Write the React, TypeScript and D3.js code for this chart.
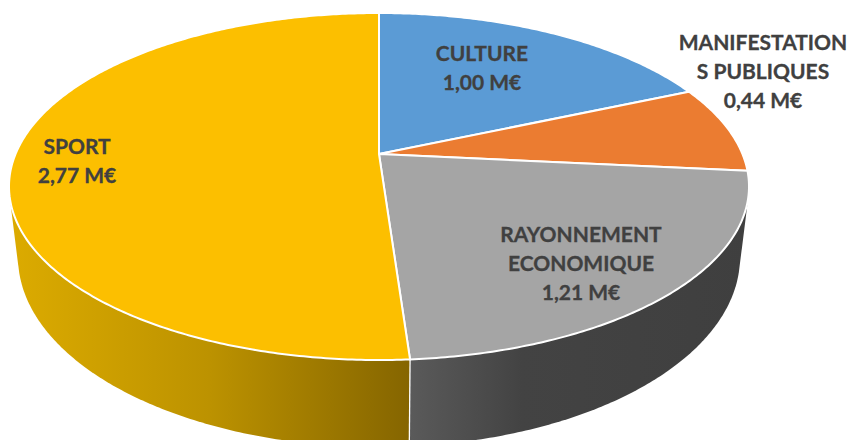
import React from "react";
import * as d3 from "d3";

const categories = ["CULTURE", "MANIFESTATIONS PUBLIQUES", "RAYONNEMENT ECONOMIQUE", "SPORT"];
const values = [1.0, 0.44, 1.21, 2.77];
const topColors = ["#5B9BD5", "#EB7C31", "#A5A5A5", "#FCBF00"];
const valueLabels = ["1,00 M€", "0,44 M€", "1,21 M€", "2,77 M€"];
const labelLines = [["CULTURE"], ["MANIFESTATION", "S PUBLIQUES"], ["RAYONNEMENT", "ECONOMIQUE"], ["SPORT"]];
const labelCenters = [[482, 53], [763, 42], [581, 234], [77, 146]];

const W = 848, H = 440;
const K = -0.187; // perspective shift of the pie's apex
const topE = { cx: 379, cy: 186.5, rx: 370, ry: 173.5 };
const botE = { cx: 379, cy: 257, rx: 361, ry: 190 };

function project(a: number, e: typeof topE, r = 1): [number, number] {
  const x = Math.sin(a) * r, y = -Math.cos(a) * r;
  const d = 1 + K * y;
  const xe = (x * Math.sqrt(1 - K * K)) / d;
  const ye = (y + K) / d;
  return [d3.scaleLinear([-1, 1], [e.cx - e.rx, e.cx + e.rx])(xe), d3.scaleLinear([-1, 1], [e.cy - e.ry, e.cy + e.ry])(ye)];
}

const arcs = d3.pie<number>().sort(null)(values);
const line = d3.line();

function samples(a0: number, a1: number) {
  const n = Math.max(2, Math.ceil((a1 - a0) / 0.01));
  return d3.range(n + 1).map((i) => a0 + ((a1 - a0) * i) / n);
}

function topPath(a0: number, a1: number) {
  const pts = samples(a0, a1).map((a) => project(a, topE));
  return line([project(0, topE, 0), ...pts])! + "Z";
}

function sidePath(a0: number, a1: number) {
  const s = samples(a0, a1);
  const hull = d3.polygonHull([...s.map((a) => project(a, topE)), ...s.map((a) => project(a, botE))]);
  return line(hull!)! + "Z";
}

export default function App() {
  const ray = arcs[2], sport = arcs[3];
  const seamTop = project(ray.endAngle, topE), seamBot = project(ray.endAngle, botE);
  return (
    <svg width={W} height={H} viewBox={`0 0 ${W} ${H}`} style={{ position: "absolute", left: 0, top: 0, background: "#fff" }}>
      <defs>
        <linearGradient id="sportSide" gradientUnits="userSpaceOnUse" x1={10} x2={410} y1={0} y2={0}>
          <stop offset="0" stopColor="#DCAB00" />
          <stop offset="0.5" stopColor="#BC9200" />
          <stop offset="1" stopColor="#856500" />
        </linearGradient>
        <linearGradient id="rayonSide" gradientUnits="userSpaceOnUse" x1={410} x2={750} y1={0} y2={0}>
          <stop offset="0" stopColor="#5A5A5A" />
          <stop offset="0.33" stopColor="#434343" />
          <stop offset="1" stopColor="#3F3F3F" />
        </linearGradient>
      </defs>
      <path d={sidePath(ray.startAngle, ray.endAngle)} fill="url(#rayonSide)" />
      <path d={sidePath(sport.startAngle, sport.endAngle)} fill="url(#sportSide)" />
      <line x1={seamTop[0]} y1={seamTop[1]} x2={seamBot[0]} y2={seamBot[1]} stroke="#fff" strokeWidth={1.3} />
      {arcs.map((d, i) => (
        <path key={categories[i]} d={topPath(d.startAngle, d.endAngle)} fill={topColors[i]} stroke="#fff" strokeWidth={2} strokeLinejoin="round" />
      ))}
      <g fontFamily="Lato" fontWeight={700} fontSize={21} fill="#404040" stroke="#404040" strokeWidth={0.3} textAnchor="middle">
        {labelLines.map((lines, i) => (
          <text key={categories[i]}>
            {[...lines, valueLabels[i]].map((t, j) => (
              <tspan key={j} x={labelCenters[i][0]} y={labelCenters[i][1] + 7.5 + j * 29}>{t}</tspan>
            ))}
          </text>
        ))}
      </g>
    </svg>
  );
}
